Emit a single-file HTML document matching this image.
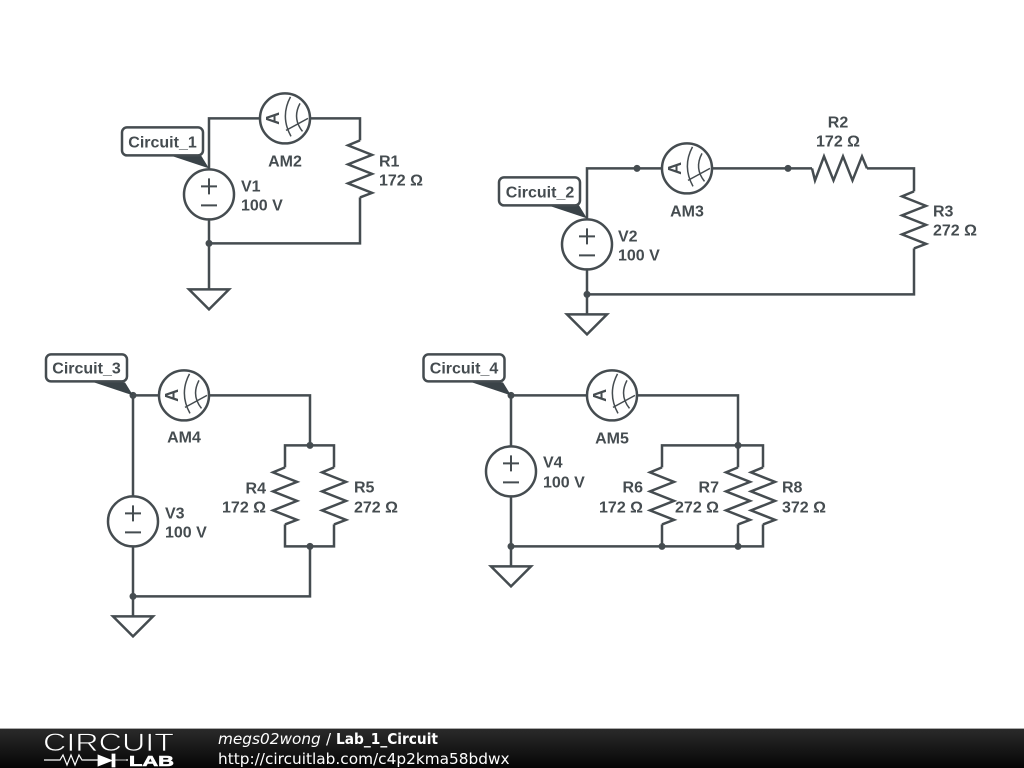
<!DOCTYPE html>
<html><head><meta charset="utf-8"><style>
html,body{margin:0;padding:0;background:#fff;width:1024px;height:768px;overflow:hidden}
svg{display:block}
text{font-family:"Liberation Sans",sans-serif;font-weight:bold;font-size:16px;fill:#454c50}
.w{fill:none;stroke:#454c50;stroke-width:2.5}
.f text{font-family:"DejaVu Sans",sans-serif;font-weight:normal;fill:#fff}
</style></head><body>
<svg width="1024" height="768" viewBox="0 0 1024 768" xmlns="http://www.w3.org/2000/svg">
<defs>
<linearGradient id="g" x1="0" y1="0" x2="0" y2="1"><stop offset="0" stop-color="#2a2a2a"/><stop offset="1" stop-color="#050505"/></linearGradient>
<g id="am"><circle r="25" fill="#fff" class="w"/>
<path class="w" style="stroke-width:1.5" d="M5.500-21.500Q-5 -2 6 18M15-15Q7 0 17.500 13M1 12L23 0"/></g>
<g id="vs"><circle r="25" fill="#fff" class="w"/>
<path class="w" style="stroke-width:2" d="M-8-8H8M0-16V0M-8 11H8"/></g>
<path id="rz" class="w" d="M0-3L-12 2L12 11.500L-12 21L12 30.500L-12 40L12 49.500L0 54"/>
<path id="gnd" class="w" d="M-20 0H20L0 20Z"/>
<g id="lab"><path d="M-39-14H-8L0-1Z" fill="#3a4348"/></g>
</defs>

<g transform="translate(0,.4)">
<g class="w">
<path d="M209 169V118H259M311 118H360V140M360 197V243H209M209 219V289"/>
<path d="M587 219V168H661M713 168H812M867 168H914V191M914 248V294H587M587 269V314"/>
<path d="M133 395V496M133 546V596H310V546M159 395H133M210 395H310V445M285 467V445H334V467M285 524V546H334V524M133 596V616"/>
<path d="M511 395V446M511 496V566M511 395H586M638 395H738V445M662 467V445H763V467M738 445V467M511 546H763V524M662 524V546M738 524V546"/>
<path d="M812 168L815 180L824 156L833.500 180L843 156L852.500 180L862 156L867 168"/>
</g>

<use href="#gnd" x="209" y="289"/><use href="#gnd" x="587" y="314"/><use href="#gnd" x="133" y="616"/><use href="#gnd" x="511" y="566"/>

<use href="#vs" x="209" y="194"/><use href="#vs" x="587" y="244"/><use href="#vs" x="133" y="521"/><use href="#vs" x="511" y="471"/>

<use href="#am" x="285" y="118"/><use href="#am" x="687" y="168"/><use href="#am" x="184" y="395"/><use href="#am" x="612" y="395"/>
<text transform="translate(279,118) rotate(-90)" text-anchor="middle" style="font-size:18px">A</text>
<text transform="translate(681,168) rotate(-90)" text-anchor="middle" style="font-size:18px">A</text>
<text transform="translate(178,395) rotate(-90)" text-anchor="middle" style="font-size:18px">A</text>
<text transform="translate(606,395) rotate(-90)" text-anchor="middle" style="font-size:18px">A</text>

<use href="#rz" x="360" y="143"/>
<use href="#rz" x="914" y="194"/>
<use href="#rz" x="285" y="470"/><use href="#rz" x="334" y="470"/>
<use href="#rz" x="662" y="470"/><use href="#rz" x="738" y="470"/><use href="#rz" x="763" y="470"/>

<g fill="#454c50">
<circle cx="209" cy="243" r="3.500"/>
<circle cx="637" cy="168" r="3.500"/><circle cx="788" cy="168" r="3.500"/><circle cx="587" cy="294" r="3.500"/>
<circle cx="133" cy="395" r="3.500"/><circle cx="310" cy="445" r="3.500"/><circle cx="310" cy="546" r="3.500"/><circle cx="133" cy="596" r="3.500"/>
<circle cx="511" cy="395" r="3.500"/><circle cx="738" cy="445" r="3.500"/><circle cx="511" cy="546" r="3.500"/><circle cx="662" cy="546" r="3.500"/><circle cx="738" cy="546" r="3.500"/>
</g>

<g>
<use href="#lab" x="209" y="169"/><rect x="122" y="127" width="81" height="28" rx="5" fill="#fff" class="w"/>
<use href="#lab" x="587" y="219"/><rect x="499" y="177" width="81" height="28" rx="5" fill="#fff" class="w"/>
<use href="#lab" x="133" y="396"/><rect x="46" y="354" width="81" height="27" rx="5" fill="#fff" class="w"/>
<use href="#lab" x="511" y="396"/><rect x="423.500" y="354" width="81" height="27" rx="5" fill="#fff" class="w"/>
</g>
</g>

<g transform="translate(0,.7)">
<text x="162.500" y="147" text-anchor="middle">Circuit_1</text>
<text x="540" y="197" text-anchor="middle">Circuit_2</text>
<text x="86.500" y="373" text-anchor="middle">Circuit_3</text>
<text x="464" y="373" text-anchor="middle">Circuit_4</text>
<text x="241" y="191">V1</text><text x="241" y="210">100 V</text>
<text x="285" y="166" text-anchor="middle">AM2</text>
<text x="379" y="166">R1</text><text x="379" y="185">172 Ω</text>
<text x="618" y="241">V2</text><text x="618" y="260">100 V</text>
<text x="687" y="216" text-anchor="middle">AM3</text>
<text x="838" y="127" text-anchor="middle">R2</text><text x="838" y="146" text-anchor="middle">172 Ω</text>
<text x="933" y="216">R3</text><text x="933" y="235">272 Ω</text>
<text x="165" y="518">V3</text><text x="165" y="537">100 V</text>
<text x="184" y="442" text-anchor="middle">AM4</text>
<text x="266" y="493" text-anchor="end">R4</text><text x="266" y="512" text-anchor="end">172 Ω</text>
<text x="354" y="492">R5</text><text x="354" y="512">272 Ω</text>
<text x="543" y="467">V4</text><text x="543" y="487">100 V</text>
<text x="612" y="443" text-anchor="middle">AM5</text>
<text x="643" y="492" text-anchor="end">R6</text><text x="643" y="512" text-anchor="end">172 Ω</text>
<text x="719" y="492" text-anchor="end">R7</text><text x="719" y="512" text-anchor="end">272 Ω</text>
<text x="782" y="492">R8</text><text x="782" y="512">372 Ω</text>
</g>

<g class="f">
<rect x="0" y="729" width="1024" height="39" fill="url(#g)"/>
<rect x="0" y="728" width="1024" height="1" fill="#aaa"/>
<text x="43" y="751" style="font-family:'Liberation Sans',sans-serif;font-size:25px;fill:#fff;stroke:#1c1c1c;stroke-width:.7;paint-order:fill stroke" textLength="131" lengthAdjust="spacingAndGlyphs">CIRCUIT</text>
<path d="M44 760H60L63 755L67 765L71 755L75 765L79 755L82 760H98M126 760H128" fill="none" stroke="#fff" stroke-width="1.200"/>
<path d="M98 755L112 760.500L98 766Z M112 754H115V767H112Z M115 760H128" fill="#fff" stroke="#fff" stroke-width=".8"/>
<text x="129" y="766" style="font-family:'Liberation Sans',sans-serif;font-weight:bold;font-size:15px;fill:#fff;stroke:#fff;stroke-width:.6" textLength="45" lengthAdjust="spacingAndGlyphs">LAB</text>
<text x="218" y="744" style="font-size:15.300px;font-style:italic">megs02wong</text>
<text x="326" y="744" style="font-size:15px">/</text>
<text x="336" y="744" style="font-size:15.300px;font-weight:bold" textLength="102" lengthAdjust="spacingAndGlyphs">Lab_1_Circuit</text>
<text x="218" y="764" style="font-size:15.330px">http://circuitlab.com/c4p2kma58bdwx</text>
</g>
</svg>
</body></html>
